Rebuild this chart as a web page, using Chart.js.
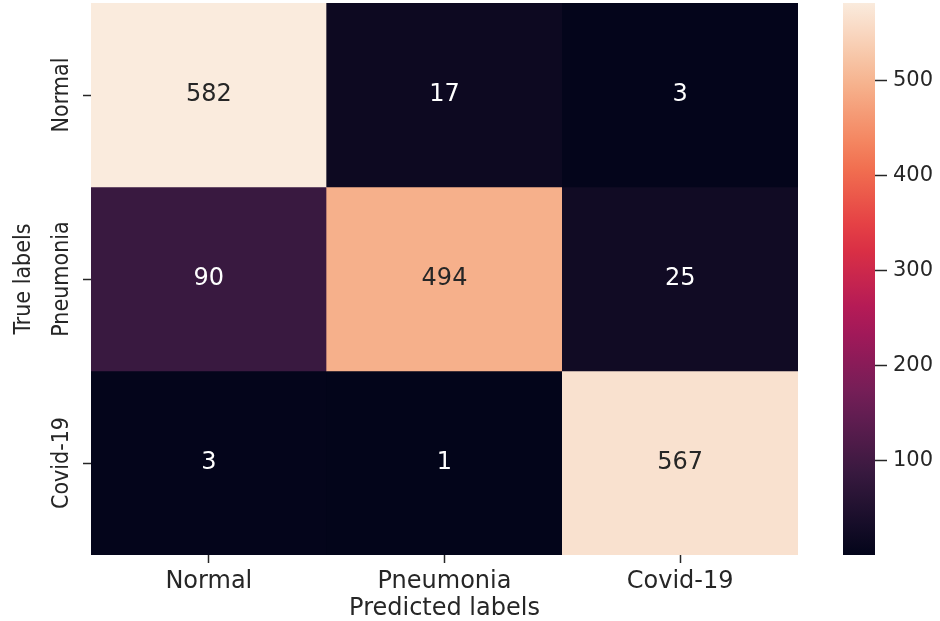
<!DOCTYPE html>
<html>
<head>
<meta charset="utf-8">
<script src="https://cdn.jsdelivr.net/npm/chart.js@4/dist/chart.umd.min.js"></script>
<style>
  html, body { margin: 0; padding: 0; background: #ffffff; }
  #wrap { position: relative; width: 940px; height: 621px; }
  #wrap canvas { position: absolute; left: 0; top: 0; }
</style>
</head>
<body>
<div id="wrap">
  <canvas id="heat" width="940" height="621"></canvas>
  <canvas id="cbar" width="940" height="621"></canvas>
</div>
<script>
// Confusion matrix: rows are true labels, columns are predicted labels
const categories = ['Normal', 'Pneumonia', 'Covid-19'];
const rowNormal = [582, 17, 3];
const rowPneumonia = [90, 494, 25];
const rowCovid = [3, 1, 567];
const colorbarTicks = [100, 200, 300, 400, 500];

const matrix = [rowNormal, rowPneumonia, rowCovid];
const allValues = matrix.flat();
const vmin = Math.min(...allValues);
const vmax = Math.max(...allValues);

// "rocket" colour map stops
const rocketStops = [
  [0.000, [3, 5, 26]],
  [0.143, [53, 25, 62]],
  [0.286, [112, 31, 87]],
  [0.429, [173, 23, 89]],
  [0.571, [225, 51, 66]],
  [0.714, [243, 118, 81]],
  [0.857, [246, 180, 143]],
  [1.000, [250, 235, 221]]
];

function rocket(t) {
  t = Math.max(0, Math.min(1, t));
  for (let i = 1; i < rocketStops.length; i++) {
    const [t1, c1] = rocketStops[i];
    const [t0, c0] = rocketStops[i - 1];
    if (t <= t1) {
      const f = (t - t0) / (t1 - t0);
      return c0.map((v, k) => Math.round(v + (c1[k] - v) * f));
    }
  }
  return rocketStops[rocketStops.length - 1][1];
}
const toRgb = c => `rgb(${c[0]},${c[1]},${c[2]})`;
const norm = v => (v - vmin) / (vmax - vmin);

const FONT = "'DejaVu Sans', 'Liberation Sans', sans-serif";
const FONT_NARROW = "'DejaVu Sans Condensed', 'Liberation Sans Narrow', 'DejaVu Sans', sans-serif";
const TEXT = '#262626';
const TICK = '#262626';

// Cell value labels at each bar centre
const cellLabels = {
  id: 'cellLabels',
  afterDatasetsDraw(chart) {
    const ctx = chart.ctx;
    ctx.save();
    ctx.font = `24px ${FONT}`;
    ctx.textAlign = 'center';
    ctx.textBaseline = 'middle';
    chart.data.datasets.forEach((ds, r) => {
      const meta = chart.getDatasetMeta(r);
      meta.data.forEach((bar, c) => {
        const v = matrix[r][c];
        const rgb = rocket(norm(v));
        const lum = (0.299 * rgb[0] + 0.587 * rgb[1] + 0.114 * rgb[2]) / 255;
        ctx.fillStyle = lum > 0.45 ? TEXT : '#ffffff';
        const p = bar.getCenterPoint();
        ctx.fillText(String(v), p.x, p.y);
      });
    });
    ctx.restore();
  }
};

// keep the plot area flush with the layout padding
function noEdgePadding(s) {
  s.paddingTop = 0;
  s.paddingBottom = 0;
}

new Chart(document.getElementById('heat'), {
  type: 'bar',
  data: {
    labels: categories,
    datasets: matrix.map((row, r) => ({
      label: categories[r],
      data: row.map(() => [r, r + 1]),
      backgroundColor: row.map(v => toRgb(rocket(norm(v)))),
      borderWidth: 0,
      barPercentage: 1,
      categoryPercentage: 1,
      grouped: false
    }))
  },
  options: {
    responsive: false,
    animation: false,
    events: [],
    layout: { padding: { top: 3, right: 142, left: 0, bottom: 0 } },
    plugins: { legend: { display: false }, tooltip: { enabled: false } },
    scales: {
      x: {
        type: 'category',
        offset: true,
        border: { display: false },
        grid: { display: true, drawOnChartArea: false, offset: false, tickLength: 8, tickColor: TICK, tickWidth: 1.5 },
        ticks: { color: TEXT, font: { family: FONT, size: 24 }, padding: 4, maxRotation: 0 },
        title: { display: true, text: 'Predicted labels', color: TEXT, font: { family: FONT, size: 24 }, padding: { top: 0, bottom: -2 } },
        afterFit(s) { s.height = 66; }
      },
      y: {
        type: 'linear',
        min: 0,
        max: 3,
        reverse: true,
        border: { display: false },
        grid: { display: true, drawOnChartArea: false, tickLength: 8, tickColor: TICK, tickWidth: 1.5 },
        afterBuildTicks(s) { s.ticks = categories.map((_, i) => ({ value: i + 0.5 })); },
        ticks: {
          color: TEXT,
          font: { family: FONT_NARROW, size: 23 },
          minRotation: 90,
          maxRotation: 90,
          crossAlign: 'center',
          padding: -37,
          callback: v => categories[Math.floor(v)]
        },
        title: { display: true, text: 'True labels', color: TEXT, font: { family: FONT_NARROW, size: 23 }, padding: { top: 10, bottom: 0 } },
        afterFit(s) { s.width = 91; noEdgePadding(s); }
      }
    }
  },
  plugins: [cellLabels]
});

// Colour bar
new Chart(document.getElementById('cbar'), {
  type: 'bar',
  data: {
    labels: [''],
    datasets: [{
      data: [[vmin, vmax]],
      borderWidth: 0,
      barPercentage: 1,
      categoryPercentage: 1,
      backgroundColor(ctx) {
        const ca = ctx.chart.chartArea;
        if (!ca) return 'black';
        const g = ctx.chart.ctx.createLinearGradient(0, ca.bottom, 0, ca.top);
        for (let i = 0; i <= 20; i++) g.addColorStop(i / 20, toRgb(rocket(i / 20)));
        return g;
      }
    }]
  },
  options: {
    responsive: false,
    animation: false,
    events: [],
    layout: { padding: { top: 3, right: 0, left: 843, bottom: 66 } },
    plugins: { legend: { display: false }, tooltip: { enabled: false } },
    scales: {
      x: { display: false },
      y: {
        position: 'right',
        min: vmin,
        max: vmax,
        border: { display: false },
        grid: { display: true, drawOnChartArea: false, tickLength: 12, tickColor: TICK, tickWidth: 1.5 },
        afterBuildTicks(s) { s.ticks = colorbarTicks.map(v => ({ value: v })); },
        ticks: { color: TEXT, font: { family: FONT, size: 21 }, padding: 6 },
        afterFit(s) { s.width = 65; noEdgePadding(s); }
      }
    }
  }
});
</script>
</body>
</html>
